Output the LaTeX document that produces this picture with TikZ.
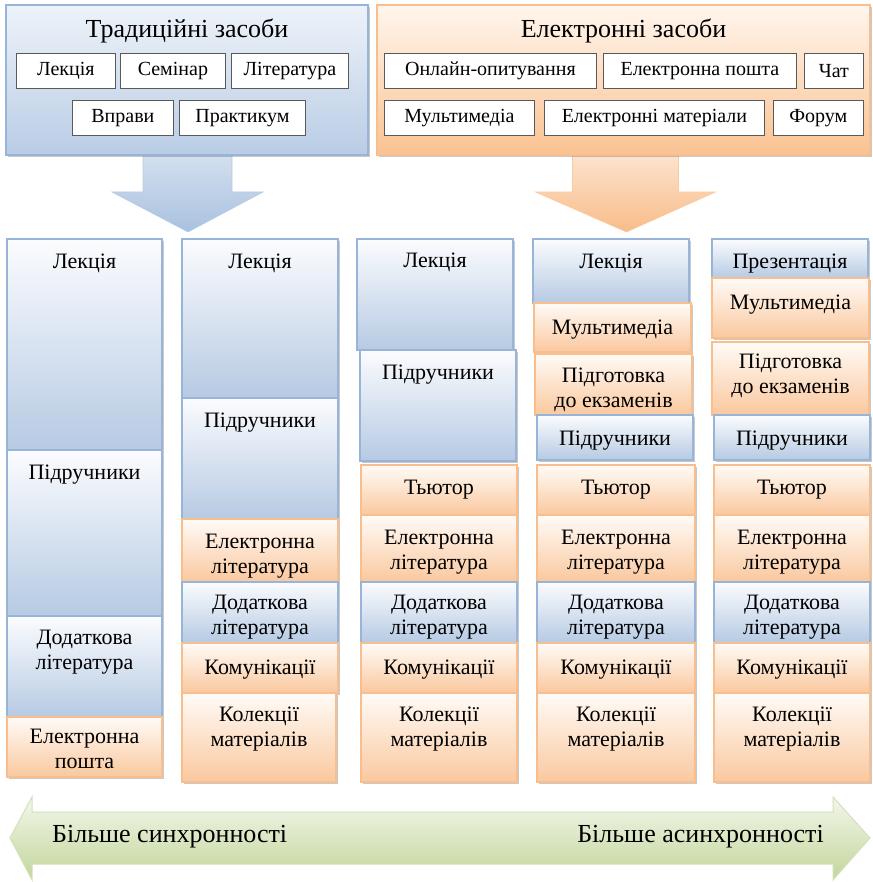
\documentclass[tikz,border=0pt]{standalone}
\usepackage{fontspec}
\setmainfont{Liberation Serif}
\usetikzlibrary{shadows,backgrounds}
\definecolor{bluetop}{HTML}{FBFCFE}
\definecolor{bluebot}{HTML}{B6CAE3}
\definecolor{blueline}{HTML}{98B4D8}
\definecolor{orgtop}{HTML}{FFFBF7}
\definecolor{orgbot}{HTML}{FAC89E}
\definecolor{orgline}{HTML}{F8BE8E}
\definecolor{tradtop}{HTML}{EEF3F9}
\definecolor{tradbot}{HTML}{B9CCE5}
\definecolor{electop}{HTML}{FFF6EE}
\definecolor{elecbot}{HTML}{FAC291}
\definecolor{arrbtop}{HTML}{D6E2F0}
\definecolor{arrbbot}{HTML}{A9C1DF}
\definecolor{arrotop}{HTML}{FDE6D3}
\definecolor{arrobot}{HTML}{F8BC88}
\definecolor{greentop}{HTML}{F3F7EB}
\definecolor{greenbot}{HTML}{C2D59A}
\definecolor{greenline}{HTML}{D3E1B8}
\newcommand\cellbox[8][29pt]{%
  \pgfmathsetmacro\cbw{#5-#3}%
  \pgfmathsetmacro\cbh{#6-#4}%
  \node[#7,anchor=north west,inner sep=0pt,outer sep=0pt] (#2) at (#3,#4)
    {\parbox[c][\cbh pt][t]{\cbw pt}{\centering\rule{0pt}{#1}#8\par}};}
\newcommand\inbox[6]{%
  \pgfmathsetmacro\cbw{#4-#2}%
  \pgfmathsetmacro\cbh{#5-#3}%
  \node[innerbox,anchor=north west,minimum width=\cbw pt,minimum height=\cbh pt] (#1) at (#2,#3) {#6};}
\tikzset{
  shad/.style={drop shadow={shadow xshift=1.5pt,shadow yshift=-2pt,opacity=0.3,fill=black!70}},
  colbox/.style={shad,font=\fontsize{22}{25}\selectfont,line width=1.2pt},
  bluebox/.style={colbox,draw=blueline,top color=bluetop,bottom color=bluebot},
  orgbox/.style={colbox,draw=orgline,top color=orgtop,bottom color=orgbot},
  bigbox/.style={shad,font=\fontsize{26}{30}\selectfont,line width=1.5pt},
  tradbox/.style={bigbox,draw=blueline,top color=tradtop,bottom color=tradbot},
  elecbox/.style={bigbox,draw=orgline,top color=electop,bottom color=elecbot},
  innerbox/.style={draw=black!65,fill=white,line width=0.8pt,inner sep=0pt,font=\fontsize{20}{22}\selectfont},
  bluearrow/.style={top color=arrbtop,bottom color=arrbbot,draw=blueline!70,line width=0.6pt},
  orgarrow/.style={top color=arrotop,bottom color=arrobot,draw=orgline!80,line width=0.6pt},
  greenarrow/.style={top color=greentop,bottom color=greenbot,draw=greenline,line width=1pt},
  endtext/.style={font=\fontsize{26}{30}\selectfont,inner sep=0pt}
}
\begin{document}
\begin{tikzpicture}[x=1pt,y=-1pt]
\useasboundingbox (0,0) rectangle (872,882);
% top boxes
\cellbox[33pt]{trad}{6}{5}{368}{155}{tradbox}{Традиційні засоби}
\cellbox[33pt]{elec}{377}{5}{870}{155}{elecbox}{Електронні засоби}
\inbox{t1}{16}{53}{115}{88}{Лекція}
\inbox{t2}{120}{53}{225}{88}{Семінар}
\inbox{t3}{231}{53}{348}{88}{Література}
\inbox{t4}{72}{100}{173}{135}{Вправи}
\inbox{t5}{179}{100}{305}{135}{Практикум}
\inbox{e1}{384}{53}{596}{88}{Онлайн-опитування}
\inbox{e2}{603}{53}{796}{88}{Електронна пошта}
\inbox{e3}{804}{53}{863}{88}{Чат}
\inbox{e4}{384}{100}{534}{135}{Мультимедіа}
\inbox{e5}{544}{100}{764}{135}{Електронні матеріали}
\inbox{e6}{773}{100}{863}{135}{Форум}
% block arrows
\begin{scope}[on background layer]
\coordinate (ta) at ([xshift=1pt,yshift=-77pt]trad.south);
\path[bluearrow] ([xshift=-44pt,yshift=6pt]trad.south) -- ([xshift=-44pt,yshift=-37pt]trad.south)
  -- ([xshift=-75pt,yshift=-37pt]trad.south) -- (ta) -- ([xshift=76pt,yshift=-37pt]trad.south)
  -- ([xshift=45pt,yshift=-37pt]trad.south) -- ([xshift=45pt,yshift=6pt]trad.south) -- cycle;
\coordinate (ea) at ([xshift=3pt,yshift=-77pt]elec.south);
\path[orgarrow] ([xshift=-51pt,yshift=6pt]elec.south) -- ([xshift=-51pt,yshift=-37pt]elec.south)
  -- ([xshift=-88pt,yshift=-37pt]elec.south) -- (ea) -- ([xshift=92pt,yshift=-37pt]elec.south)
  -- ([xshift=55pt,yshift=-37pt]elec.south) -- ([xshift=55pt,yshift=6pt]elec.south) -- cycle;
\end{scope}
% column 1
\cellbox{c1a}{7}{239}{162}{450}{bluebox}{Лекція}
\cellbox{c1b}{7}{450}{162}{616}{bluebox}{Підручники}
\cellbox[28pt]{c1c}{7}{616}{162}{717}{bluebox}{Додаткова\\література}
\cellbox[26pt]{c1d}{7}{717}{162}{777}{orgbox}{Електронна\\пошта}
% column 2
\cellbox{c2a}{182}{239}{338}{398}{bluebox}{Лекція}
\cellbox{c2b}{182}{398}{338}{519}{bluebox}{Підручники}
\cellbox{c2c}{182}{519}{338}{582}{orgbox}{Електронна\\література}
\cellbox[27pt]{c2d}{182}{582}{338}{643}{bluebox}{Додаткова\\література}
\cellbox[31pt]{c2e}{182}{643}{338}{693}{orgbox}{Комунікації}
\cellbox[28pt]{c2f}{182}{693}{336}{782}{orgbox}{Колекції\\матеріалів}
% column 3
\cellbox{c3a}{357}{239}{513}{350}{bluebox}{Лекція}
\cellbox{c3b}{360}{350}{516}{461}{bluebox}{Підручники}
\cellbox{c3c}{361}{465}{517}{515}{orgbox}{Тьютор}
\cellbox{c3d}{361}{515}{517}{582}{orgbox}{Електронна\\література}
\cellbox[27pt]{c3e}{361}{582}{517}{643}{bluebox}{Додаткова\\література}
\cellbox[31pt]{c3f}{361}{643}{517}{693}{orgbox}{Комунікації}
\cellbox[28pt]{c3g}{361}{693}{517}{782}{orgbox}{Колекції\\матеріалів}
% column 4
\cellbox{c4a}{533}{239}{689}{303}{bluebox}{Лекція}
\cellbox[31pt]{c4b}{534}{303}{691}{352}{orgbox}{Мультимедіа}
\cellbox[28pt]{c4c}{535}{354}{692}{415}{orgbox}{Підготовка\\до екзаменів}
\cellbox[30pt]{c4d}{537}{415}{693}{460}{bluebox}{Підручники}
\cellbox{c4e}{537}{465}{695}{515}{orgbox}{Тьютор}
\cellbox{c4f}{537}{515}{695}{582}{orgbox}{Електронна\\література}
\cellbox[27pt]{c4g}{537}{582}{695}{643}{bluebox}{Додаткова\\література}
\cellbox[31pt]{c4h}{537}{643}{695}{693}{orgbox}{Комунікації}
\cellbox[28pt]{c4i}{537}{693}{695}{782}{orgbox}{Колекції\\матеріалів}
% column 5
\cellbox[30pt]{c5a}{712}{239}{868}{278}{bluebox}{Презентація}
\cellbox[31pt]{c5b}{712}{278}{869}{338}{orgbox}{Мультимедіа}
\cellbox[26pt]{c5c}{712}{342}{869}{415}{orgbox}{Підготовка\\до екзаменів}
\cellbox[30pt]{c5d}{714}{415}{870}{460}{bluebox}{Підручники}
\cellbox{c5e}{714}{465}{870}{515}{orgbox}{Тьютор}
\cellbox{c5f}{714}{515}{870}{582}{orgbox}{Електронна\\література}
\cellbox[27pt]{c5g}{714}{582}{870}{643}{bluebox}{Додаткова\\література}
\cellbox[31pt]{c5h}{714}{643}{870}{693}{orgbox}{Комунікації}
\cellbox[28pt]{c5i}{714}{693}{870}{782}{orgbox}{Колекції\\матеріалів}
% bottom double arrow
\coordinate (gl) at (10,838);
\coordinate (gr) at (870,838);
\path[greenarrow] (gl) -- (32,797) -- (32,812) -- (833,812) -- (833,797) -- (gr)
  -- (833,880) -- (833,864) -- (32,864) -- (32,880) -- cycle;
\node[endtext,anchor=base west] (syn) at (52,842) {Більше синхронності};
\node[endtext,anchor=base east] (asyn) at (824,842) {Більше асинхронності};
\end{tikzpicture}
\end{document}
